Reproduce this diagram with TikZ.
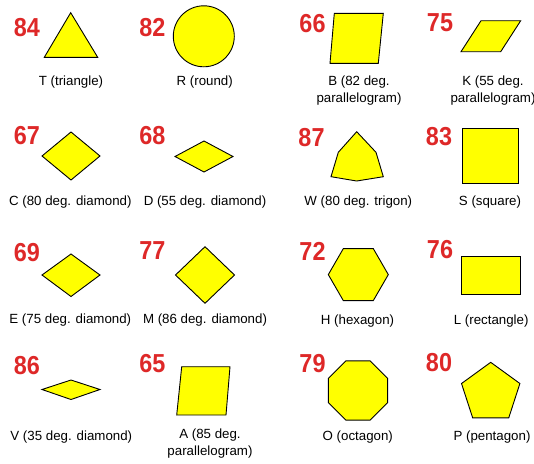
\documentclass[tikz,border=0pt]{standalone}
\usepackage{fontspec}
\setmainfont{Liberation Sans}
\definecolor{numred}{RGB}{222,40,40}
\definecolor{shapeyellow}{RGB}{255,255,0}
\begin{document}
\begin{tikzpicture}[x=1pt,y=-1pt,
  shp/.style={draw=black,fill=shapeyellow,line width=0.9pt,line join=miter},
  num/.style={inner sep=0pt,text=numred,font=\fontsize{26}{26}\selectfont\bfseries},
  lbl/.style={inner sep=0pt,align=center,font=\fontsize{13.3}{17}\selectfont}]
\useasboundingbox[fill=white] (0,0) rectangle (534,463);
% ---------- row 1
\node[num] (n84) at (27,27.5) {\scalebox{0.9}[1]{84}};
\draw[shp] (70.7,12.7) -- (44.3,57.3) -- (97.7,57.3) -- cycle;
\node[lbl] (lT) at (71,82) {T (triangle)};
\node[num] (n82) at (152.5,27.5) {\scalebox{0.9}[1]{82}};
\draw[shp] (203.8,36.3) circle[radius=30.5];
\node[lbl] (lR) at (204.7,82) {R (round)};
\node[num] (n66) at (312.5,24) {\scalebox{0.9}[1]{66}};
\draw[shp] (334.3,13.3) -- (383.3,13.3) -- (378.3,63.3) -- (330,63.3) -- cycle;
\node[lbl] (lB) at (359,90.5) {B (82 deg.\\parallelogram)};
\node[num] (n75) at (440,22.5) {\scalebox{0.9}[1]{75}};
\draw[shp] (481,20.7) -- (520.7,20.7) -- (500.7,51.7) -- (461,51.7) -- cycle;
\node[lbl] (lK) at (493,90.5) {K (55 deg.\\parallelogram)};
% ---------- row 2
\node[num] (n67) at (27,135.5) {\scalebox{0.9}[1]{67}};
\draw[shp] (71,132) -- (42,156) -- (71,180) -- (100,156) -- cycle;
\node[lbl] (lC) at (70.3,201.7) {C (80 deg. diamond)};
\node[num] (n68) at (152.5,135.5) {\scalebox{0.9}[1]{68}};
\draw[shp] (204,141) -- (175,156.5) -- (204,172) -- (233,156.5) -- cycle;
\node[lbl] (lD) at (205,201.7) {D (55 deg. diamond)};
\node[num] (n87) at (311.5,138) {\scalebox{0.9}[1]{87}};
\draw[shp] (356.7,131.7) -- (338.3,152.3) -- (331,176.7) -- (356.7,181) -- (383.3,176.7) -- (376,152.3) -- cycle;
\node[lbl] (lW) at (358.3,202) {W (80 deg. trigon)};
\node[num] (n83) at (439,137) {\scalebox{0.9}[1]{83}};
\draw[shp] (462.3,128.3) rectangle (518.3,183.3);
\node[lbl] (lS) at (490,202) {S (square)};
% ---------- row 3
\node[num] (n69) at (27,252.5) {\scalebox{0.9}[1]{69}};
\draw[shp] (71,254) -- (42,275) -- (71,296.5) -- (100,275) -- cycle;
\node[lbl] (lE) at (70.3,320) {E (75 deg. diamond)};
\node[num] (n77) at (152.5,251) {\scalebox{0.9}[1]{77}};
\draw[shp] (205,246.7) -- (175.5,275) -- (205,303.3) -- (234.5,275) -- cycle;
\node[lbl] (lM) at (205,320) {M (86 deg. diamond)};
\node[num] (n72) at (312.5,251.5) {\scalebox{0.9}[1]{72}};
\draw[shp,shift={(358.3,274.6)}] (0:30) -- (60:30) -- (120:30) -- (180:30) -- (240:30) -- (300:30) -- cycle;
\node[lbl] (lH) at (357.5,321) {H (hexagon)};
\node[num] (n76) at (440,250) {\scalebox{0.9}[1]{76}};
\draw[shp] (461,256) rectangle (520.7,294.3);
\node[lbl] (lL) at (491.2,321) {L (rectangle)};
% ---------- row 4
\node[num] (n86) at (27,365.3) {\scalebox{0.9}[1]{86}};
\draw[shp] (71,380) -- (42,389.5) -- (71,399.5) -- (100,389.5) -- cycle;
\node[lbl] (lV) at (71.3,437) {V (35 deg. diamond)};
\node[num] (n65) at (152.5,364) {\scalebox{0.9}[1]{65}};
\draw[shp] (181.7,366.7) -- (230,366.7) -- (226,415) -- (176.7,415) -- cycle;
\node[lbl] (lA) at (210,443.5) {A (85 deg.\\parallelogram)};
\node[num] (n79) at (312.5,364) {\scalebox{0.9}[1]{79}};
\draw[shp,shift={(358,390.5)}] (22.5:32) -- (67.5:32) -- (112.5:32) -- (157.5:32) -- (202.5:32) -- (247.5:32) -- (292.5:32) -- (337.5:32) -- cycle;
\node[lbl] (lO) at (357.8,437) {O (octagon)};
\node[num] (n80) at (439,363) {\scalebox{0.9}[1]{80}};
\draw[shp,shift={(490.7,393)}] (-90:30.7) -- (-18:30.7) -- (54:30.7) -- (126:30.7) -- (198:30.7) -- cycle;
\node[lbl] (lP) at (492,437) {P (pentagon)};
\end{tikzpicture}
\end{document}
